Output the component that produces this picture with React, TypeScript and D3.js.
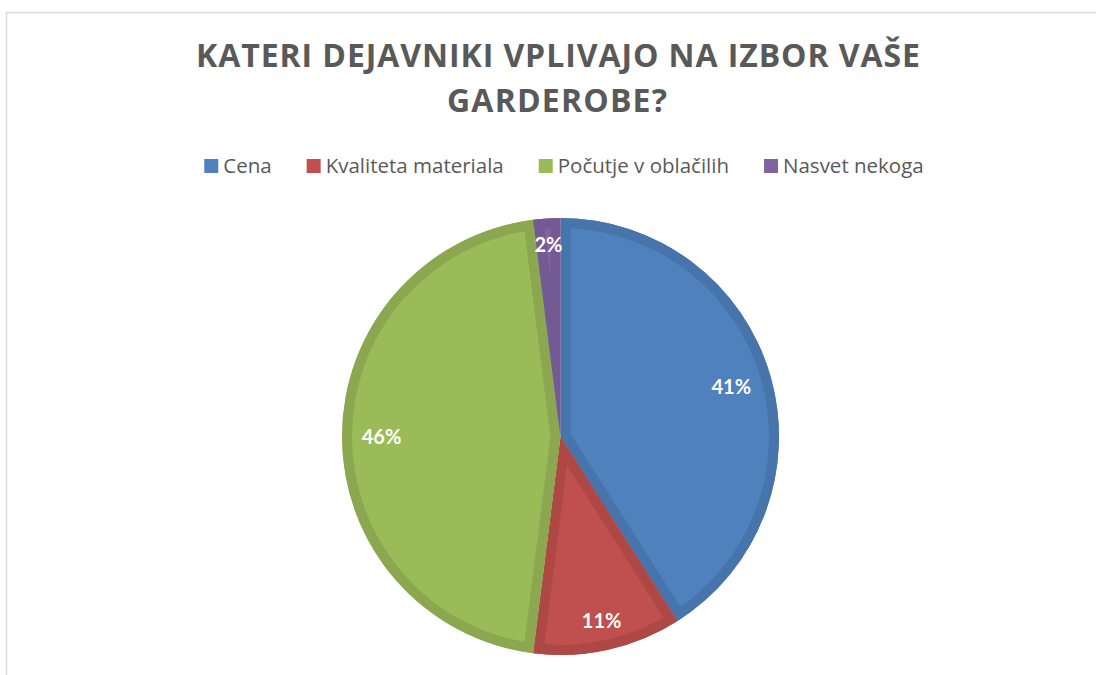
import { useMemo } from 'react';
import * as d3 from 'd3';

const WIDTH = 1096;
const HEIGHT = 675;

const titleLines = ['KATERI DEJAVNIKI VPLIVAJO NA IZBOR VAŠE', 'GARDEROBE?'];
const categories = ['Cena', 'Kvaliteta materiala', 'Počutje v oblačilih', 'Nasvet nekoga'];
const values = [41, 11, 46, 2];
const colors = ['#4F81BD', '#C0504D', '#9BBB59', '#8064A2'];

const CX = 560.5;
const CY = 436.5;
const R = 218.5;
const BORDER = 10;

const FONT = '"Open Sans", Lato, sans-serif';
const LABEL_FONT = 'Lato, "Open Sans", sans-serif';

// measure text width with a canvas
const measure = (txt: string, font: string) => {
  const ctx = document.createElement('canvas').getContext('2d');
  if (!ctx) return txt.length * 10;
  ctx.font = font;
  return ctx.measureText(txt).width;
};

export default function App() {
  const data = categories.map((c, i) => ({ name: c, value: values[i], color: colors[i] }));

  const arcs = useMemo(() => {
    return d3
      .pie<{ name: string; value: number; color: string }>()
      .sort(null)
      .value(d => d.value)
      .startAngle(0)
      .endAngle(2 * Math.PI)(data);
  }, []);

  const arcGen = d3
    .arc<d3.PieArcDatum<{ name: string; value: number; color: string }>>()
    .innerRadius(0)
    .outerRadius(R);

  const total = d3.sum(values);
  const fmt = (v: number) => `${Math.round((v / total) * 100)}%`;

  // legend layout
  const legendFont = `20.5px ${FONT}`;
  const sq = 14;
  const gapTxt = 5;
  const gapItem = 35;
  const widths = categories.map(c => measure(c, legendFont));
  const itemW = widths.map(w => sq + gapTxt + w);
  const legendTotal = d3.sum(itemW) + gapItem * (categories.length - 1);
  let lx = 564 - legendTotal / 2;
  const legendX = itemW.map(w => {
    const x = lx;
    lx += w + gapItem;
    return x;
  });

  // label positions: box edge kept ~200px from centre
  const labelEdge = 200;
  const halfH = 7;

  return (
    <svg
      width={WIDTH}
      height={HEIGHT}
      style={{ position: 'absolute', left: 0, top: 0, background: '#fff' }}
    >
      <rect x={6.5} y={12.5} width={1200} height={800} fill="#fff" stroke="#D9D9D9" strokeWidth={1.5} />

      {/* Titel */}
      <text
        x={196}
        y={67}
        textLength={724}
        lengthAdjust="spacing"
        style={{ font: `bold 32px ${FONT}`, fill: '#595959' }}
      >
        {titleLines[0]}
      </text>
      <text
        x={447}
        y={112}
        textLength={220}
        lengthAdjust="spacing"
        style={{ font: `bold 32px ${FONT}`, fill: '#595959' }}
      >
        {titleLines[1]}
      </text>

      {/* Legenda */}
      {data.map((d, i) => (
        <g key={d.name} transform={`translate(${legendX[i]}, 0)`}>
          <rect x={0} y={159} width={sq} height={sq} fill={d.color} />
          <text x={sq + gapTxt} y={173} style={{ font: legendFont, fill: '#595959' }}>
            {d.name}
          </text>
        </g>
      ))}

      <defs>
        {arcs.map((a, i) => (
          <clipPath id={`clip-${i}`} key={i}>
            <path d={arcGen(a) || ''} />
          </clipPath>
        ))}
      </defs>

      <g transform={`translate(${CX}, ${CY})`}>
        {arcs.map((a, i) => (
          <g key={i}>
            <path d={arcGen(a) || ''} fill={a.data.color} />
            <path
              d={arcGen(a) || ''}
              fill="none"
              stroke={d3.color(a.data.color)!.darker(0.3).formatHex()}
              strokeWidth={BORDER * 2}
              strokeLinejoin="miter"
              clipPath={`url(#clip-${i})`}
            />
          </g>
        ))}
        {arcs.map((a, i) => {
          const mid = (a.startAngle + a.endAngle) / 2;
          const ux = Math.sin(mid);
          const uy = -Math.cos(mid);
          const label = fmt(a.data.value);
          const halfW = label.length * 7;
          const dist = labelEdge - Math.abs(ux) * halfW - Math.abs(uy) * halfH;
          return (
            <text
              key={`l-${i}`}
              x={ux * dist}
              y={uy * dist}
              dy="0.36em"
              textAnchor="middle"
              style={{ font: `bold 20px ${LABEL_FONT}`, fill: '#fff' }}
            >
              {label}
            </text>
          );
        })}
      </g>
    </svg>
  );
}
